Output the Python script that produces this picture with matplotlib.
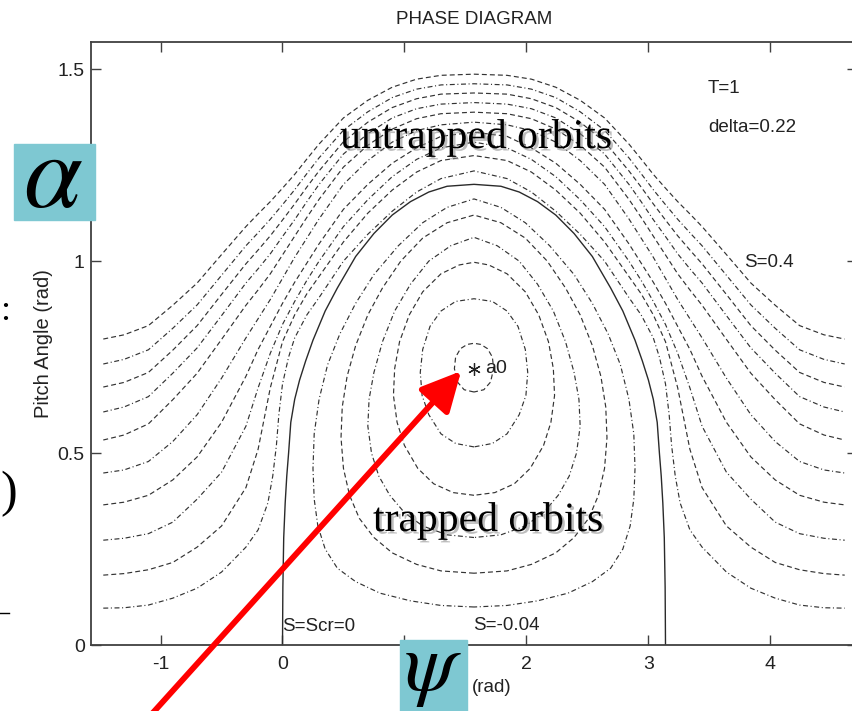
import numpy as np
import matplotlib
matplotlib.rcParams['font.family'] = 'Liberation Sans'
matplotlib.rcParams['mathtext.fontset'] = 'stix'
import matplotlib.pyplot as plt
from matplotlib.patches import Rectangle, FancyArrowPatch
import matplotlib.patheffects as pe

W, H = 853, 711
CENTER = np.pi / 2   # the portrait is symmetric about psi = pi/2

# untrapped orbits, left half (psi from the left end up to pi/2), inner to outer
untrapped_psi = [-1.47, -1.3, -1.1, -0.9, -0.7, -0.5, -0.3, -0.2, -0.1, 0.0,
                 0.1, 0.2, 0.3, 0.5, 0.7, 0.9, 1.1, 1.3, CENTER]
untrapped_alpha = [
    [0.182, 0.186, 0.196, 0.215, 0.255, 0.310, 0.410, 0.510, 0.670, 0.790,
     0.860, 0.915, 0.960, 1.050, 1.125, 1.185, 1.232, 1.262, 1.275],
    [0.273, 0.278, 0.290, 0.320, 0.380, 0.450, 0.570, 0.670, 0.760, 0.835,
     0.895, 0.950, 1.000, 1.090, 1.160, 1.220, 1.265, 1.295, 1.310],
    [0.365, 0.372, 0.390, 0.430, 0.490, 0.580, 0.700, 0.770, 0.830, 0.890,
     0.945, 0.995, 1.045, 1.135, 1.200, 1.255, 1.295, 1.325, 1.336],
    [0.448, 0.456, 0.478, 0.530, 0.600, 0.695, 0.800, 0.850, 0.900, 0.955,
     1.010, 1.060, 1.110, 1.200, 1.262, 1.310, 1.340, 1.355, 1.362],
    [0.534, 0.547, 0.576, 0.639, 0.708, 0.796, 0.885, 0.925, 0.967, 1.016,
     1.065, 1.114, 1.161, 1.245, 1.302, 1.344, 1.371, 1.384, 1.388],
    [0.607, 0.620, 0.647, 0.708, 0.774, 0.858, 0.943, 0.980, 1.019, 1.064,
     1.108, 1.155, 1.200, 1.279, 1.332, 1.373, 1.397, 1.409, 1.413],
    [0.672, 0.684, 0.710, 0.768, 0.832, 0.913, 0.993, 1.029, 1.066, 1.107,
     1.149, 1.193, 1.235, 1.311, 1.362, 1.400, 1.423, 1.435, 1.438],
    [0.732, 0.744, 0.769, 0.825, 0.886, 0.963, 1.040, 1.074, 1.109, 1.147,
     1.186, 1.228, 1.269, 1.341, 1.389, 1.426, 1.448, 1.459, 1.462],
    [0.797, 0.808, 0.832, 0.885, 0.943, 1.017, 1.090, 1.123, 1.155, 1.190,
     1.226, 1.266, 1.305, 1.373, 1.419, 1.453, 1.474, 1.484, 1.487],
]
# innermost untrapped orbit, running close to the separatrix
inner_untrapped_psi = [-1.47, -1.3, -1.1, -0.9, -0.7, -0.5, -0.3, -0.2, -0.12, -0.08,
                       -0.05, -0.03, 0.0, 0.05, 0.1, 0.2, 0.3, 0.5, 0.7, 0.9,
                       1.1, 1.3, CENTER]
inner_untrapped_alpha = [0.096, 0.097, 0.104, 0.122, 0.148, 0.190, 0.255, 0.300, 0.370, 0.440,
                         0.520, 0.600, 0.680, 0.750, 0.800, 0.860, 0.905, 1.000, 1.070, 1.130,
                         1.180, 1.215, 1.235]

# separatrix S = Scr = 0, left half
sep_psi = [0.0, 0.003, 0.01, 0.022, 0.035, 0.05, 0.068, 0.1, 0.14, 0.19, 0.25,
           0.35, 0.45, 0.6, 0.75, 0.9, 1.05, 1.2, 1.35, CENTER]
sep_alpha = [0.0, 0.15, 0.28, 0.37, 0.44, 0.50, 0.58, 0.64, 0.69, 0.74, 0.794,
             0.87, 0.93, 1.012, 1.072, 1.12, 1.155, 1.18, 1.195, 1.20]

# trapped orbits, left half from the bottom point round to the top point
trapped_psi = [
    [CENTER, 1.3, 1.05, 0.8, 0.6, 0.45, 0.35, 0.29, 0.26, 0.25, 0.26, 0.3, 0.37,
     0.47, 0.6, 0.75, 0.95, 1.15, 1.35, CENTER],
    [CENTER, 1.3, 1.1, 0.9, 0.75, 0.63, 0.55, 0.5, 0.48, 0.49, 0.53, 0.6, 0.7,
     0.82, 0.97, 1.15, 1.35, CENTER],
    [CENTER, 1.35, 1.15, 1.0, 0.88, 0.79, 0.73, 0.70, 0.71, 0.75, 0.82, 0.92,
     1.05, 1.2, 1.38, CENTER],
    [CENTER, 1.4, 1.24, 1.11, 1.0, 0.94, 0.91, 0.92, 0.96, 1.04, 1.15, 1.3, 1.45, CENTER],
    [CENTER, 1.42, 1.3, 1.2, 1.145, 1.13, 1.15, 1.21, 1.3, 1.42, CENTER],
    [CENTER, 1.49, 1.435, 1.41, 1.42, 1.46, 1.515, CENTER],
]
trapped_alpha = [
    [0.099, 0.103, 0.115, 0.135, 0.165, 0.20, 0.25, 0.31, 0.38, 0.46, 0.55, 0.64, 0.73,
     0.81, 0.89, 0.965, 1.04, 1.10, 1.14, 1.162],
    [0.187, 0.193, 0.21, 0.24, 0.28, 0.33, 0.39, 0.46, 0.54, 0.62, 0.70, 0.78, 0.86,
     0.93, 1.0, 1.06, 1.10, 1.12],
    [0.28, 0.287, 0.31, 0.345, 0.39, 0.44, 0.50, 0.57, 0.64, 0.71, 0.79, 0.87,
     0.94, 1.0, 1.04, 1.062],
    [0.39, 0.397, 0.42, 0.46, 0.52, 0.58, 0.65, 0.72, 0.79, 0.86, 0.92, 0.967, 0.99, 0.997],
    [0.516, 0.525, 0.55, 0.6, 0.65, 0.71, 0.77, 0.83, 0.87, 0.895, 0.902],
    [0.659, 0.665, 0.685, 0.72, 0.75, 0.772, 0.783, 0.786],
]

a0_psi, a0_alpha = 1.57, 0.72
x_ticks = [-1, 0, 1, 2, 3, 4]
x_tick_labels = ['-1', '0', '', '2', '3', '4']   # "1" sits under the psi box
y_ticks = [0, 0.5, 1, 1.5]
y_tick_labels = ['0', '0.5', '1', '1.5']


def mirrored(psi, alpha):
    psi = np.asarray(psi, float)
    alpha = np.asarray(alpha, float)
    return (np.r_[psi, 2 * CENTER - psi[::-1][1:]],
            np.r_[alpha, alpha[::-1][1:]])


def fx(px):
    return px / W


def fy(py):
    return 1 - py / H


fig = plt.figure(figsize=(W / 100, H / 100), dpi=100)
ax = fig.add_axes([fx(91), fy(645), fx(857) - fx(91), fy(42) - fy(645)])

dash = (0, (4.2, 2.2, 0.9, 2.2))
dash2 = (0, (4.2, 2.6))
lc = '#333333'

p, a = mirrored(inner_untrapped_psi, inner_untrapped_alpha)
ax.plot(p, a, color=lc, lw=0.85, ls=dash)
for i, al in enumerate(untrapped_alpha):
    p, a = mirrored(untrapped_psi, al)
    ax.plot(p, a, color=lc, lw=0.85, ls=dash2 if i % 2 == 0 else dash)

for i, (ps, al) in enumerate(zip(trapped_psi, trapped_alpha)):
    p, a = mirrored(ps, al)
    ax.plot(p, a, color=lc, lw=0.85, ls=dash if i % 2 == 0 else dash2)

p, a = mirrored(sep_psi, sep_alpha)
ax.plot(p, a, color='#2a2a2a', lw=1.0)

ax.plot([a0_psi], [a0_alpha], marker=(6, 2, 0), ms=9, color='#222222', mew=0.9)
ax.text(a0_psi + 0.09, a0_alpha, 'a0', fontsize=14, va='center', ha='left', color='#222222')

ax.set_xlim(-np.pi / 2, 3 * np.pi / 2)
ax.set_ylim(0, np.pi / 2)
ax.set_xticks(x_ticks)
ax.set_yticks(y_ticks)
ax.set_xticklabels(x_tick_labels)
ax.set_yticklabels(y_tick_labels)
ax.tick_params(direction='in', length=7, width=1.0, color='#404040', labelsize=14,
               top=True, right=True, labelcolor='#222222')
ax.tick_params(axis='x', pad=8)
ax.tick_params(axis='y', pad=4.5)
for s in ax.spines.values():
    s.set_color('#404040')
    s.set_linewidth(1.3)

ax.set_title('PHASE DIAGRAM', fontsize=13.5, color='#222222', pad=13)
ax.set_ylabel('Pitch Angle (rad)', fontsize=14.5, color='#222222', labelpad=3)

ax.text(3.49, 1.45, 'T=1', fontsize=13.5, va='center', color='#222222')
ax.text(3.49, 1.349, 'delta=0.22', fontsize=13.5, va='center', color='#222222')
ax.text(3.79, 0.997, 'S=0.4', fontsize=13.5, va='center', color='#222222')
ax.text(0.0, 0.047, 'S=Scr=0', fontsize=13.5, va='center', color='#222222')
ax.text(1.56, 0.052, 'S=-0.04', fontsize=13.5, va='center', color='#222222')
fig.text(fx(472), fy(687), '(rad)', fontsize=13.5, va='center', ha='left', color='#222222')

shadow = [pe.withSimplePatchShadow(offset=(1.8, -1.8), shadow_rgbFace='#888888', alpha=0.55)]
fig.text(fx(476), fy(148), 'untrapped orbits', fontsize=30, family='Liberation Serif',
         ha='center', va='baseline', path_effects=shadow)
fig.text(fx(488), fy(531), 'trapped orbits', fontsize=30, family='Liberation Serif',
         ha='center', va='baseline', path_effects=shadow)

# slide fragments at the left border
fig.text(fx(0), fy(311), ':', fontsize=26, family='Liberation Serif', ha='left', va='center')
fig.text(fx(0), fy(494), ')', fontsize=36, family='Liberation Serif', ha='left', va='center')
fig.add_artist(plt.Line2D([0, fx(9)], [fy(613), fy(613)], color='black', lw=1.0))

teal = '#7ec8d2'
fig.add_artist(Rectangle((fx(14), fy(220)), fx(95) - fx(14), fy(144) - fy(220),
                         transform=fig.transFigure, color=teal, zorder=5))
fig.text(fx(53), fy(180), r'$\alpha$', fontsize=76, ha='center', va='center', zorder=6)
fig.add_artist(Rectangle((fx(400), fy(711)), fx(467) - fx(400), fy(640) - fy(711),
                         transform=fig.transFigure, color=teal, zorder=5))
fig.text(fx(433), fy(670), r'$\psi$', fontsize=60, ha='center', va='center', zorder=6)

fig.add_artist(FancyArrowPatch((fx(150), fy(716)), (fx(463), fy(369)),
                               transform=fig.transFigure, color='#ff0000', lw=4.2,
                               arrowstyle='-|>,head_length=1.1,head_width=0.55',
                               mutation_scale=22, zorder=7))

fig.savefig('out.png', dpi=100, facecolor='white')
